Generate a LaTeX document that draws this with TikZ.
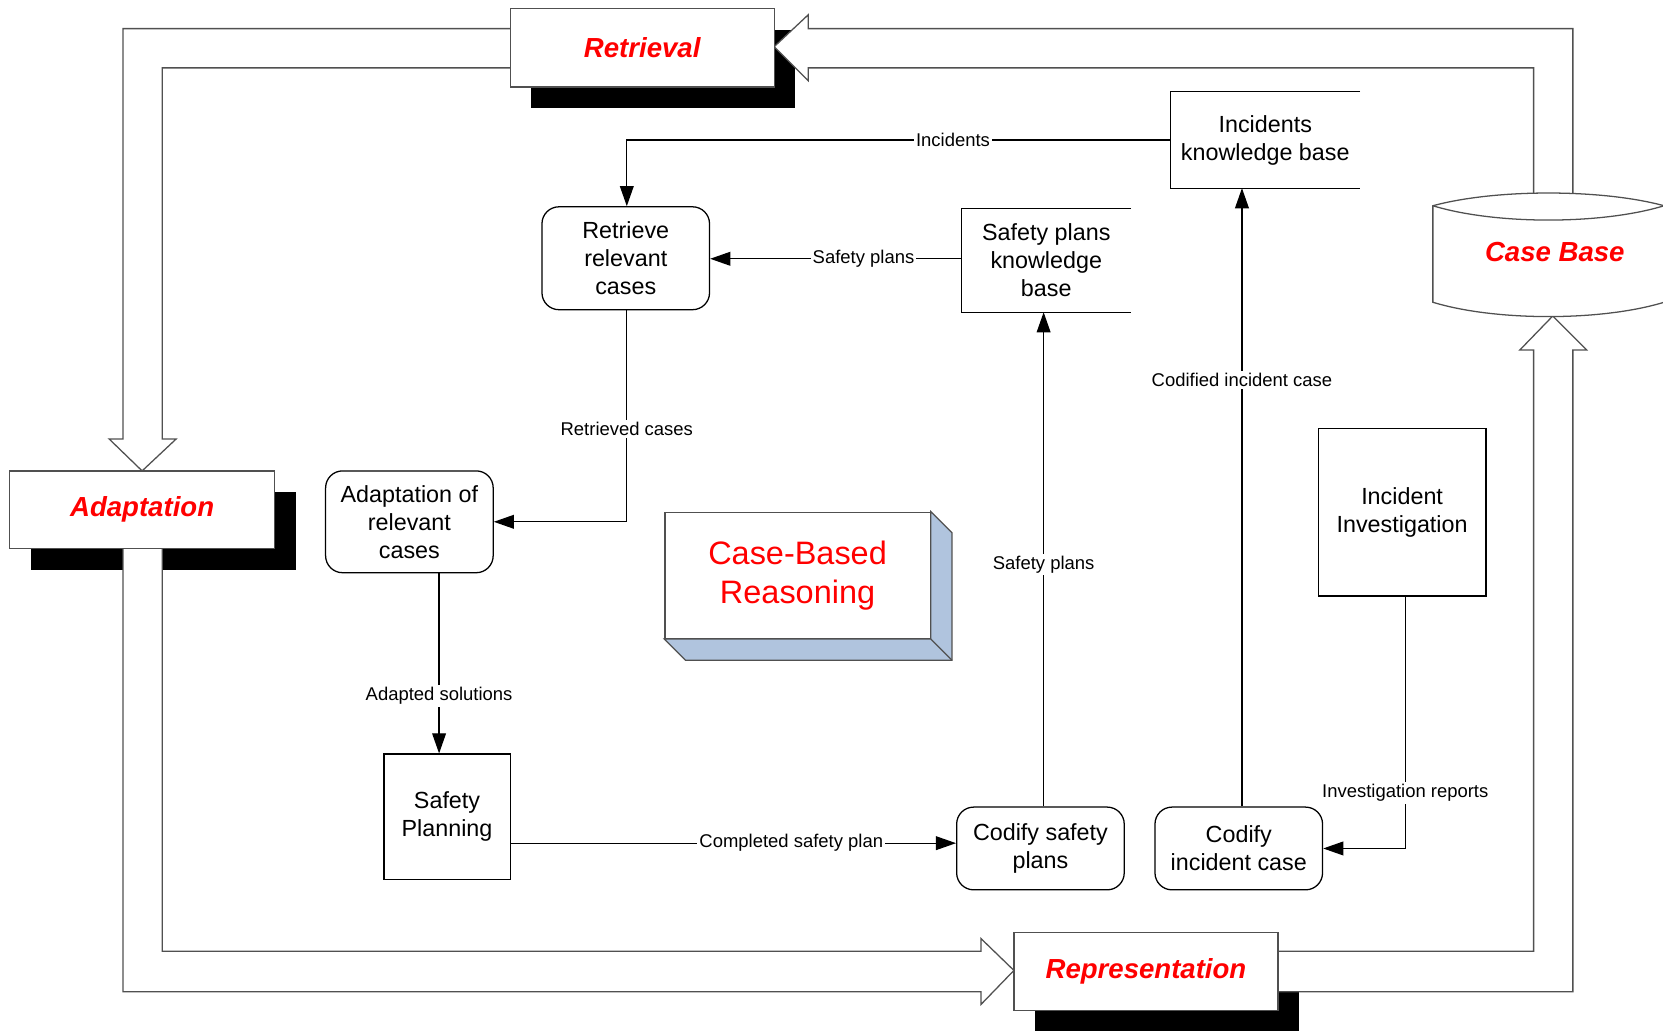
\documentclass[tikz,border=0pt]{standalone}
\usepackage{fontspec}
\setmainfont{Liberation Sans}
\usetikzlibrary{arrows.meta}
\definecolor{sidefill}{HTML}{B0C4DE}
\definecolor{edge}{HTML}{505050}
\begin{document}
\begin{tikzpicture}[x=0.5pt,y=-0.5pt,
  phase/.style={draw=edge, fill=white, line width=0.6pt, minimum width=124.5pt,
    minimum height=37pt, inner sep=0pt, text=red,
    font=\fontsize{13}{15}\selectfont\bfseries\itshape},
  proc/.style={draw=black, fill=white, line width=0.6pt, align=center, inner sep=0pt,
    minimum width=79pt, font=\fontsize{11}{13.2}\selectfont},
  rproc/.style={proc, rounded corners=8pt},
  store/.style={align=center, inner sep=0pt, minimum width=89pt, minimum height=45pt,
    font=\fontsize{11}{13.2}\selectfont},
  lbl/.style={fill=white, inner sep=1pt, font=\fontsize{8.7}{10}\selectfont},
  conn/.style={line width=0.6pt, -{Triangle[length=9.5pt,width=6.5pt]}},
  blockarrow/.style={draw=edge, fill=white, line width=0.6pt},
  dropshade/.style={fill=black}]

\useasboundingbox (0,0) rectangle (1568,972);

% drop shadows of the four phase boxes
\fill[dropshade] (501,28) rectangle (750,102);
\fill[dropshade] (29,464) rectangle (279,537);
\fill[dropshade] (976,899) rectangle (1225,973);

% the outer cycle of hollow block arrows
\filldraw[blockarrow] (490,64) -- (153,64) -- (153,414) -- (166,414) -- (134,444)
  -- (103,414) -- (116,414) -- (116,27) -- (490,27) -- cycle;
\filldraw[blockarrow] (153,510) -- (153,897) -- (925,897) -- (925,885) -- (956,915)
  -- (925,947) -- (925,935) -- (116,935) -- (116,510) -- cycle;
\filldraw[blockarrow] (1195,897) -- (1446,897) -- (1446,330) -- (1433,330) -- (1464,298)
  -- (1496,330) -- (1483,330) -- (1483,935) -- (1195,935) -- cycle;
\filldraw[blockarrow] (1446,195) -- (1446,64) -- (762,64) -- (762,76) -- (730,44)
  -- (762,14) -- (762,27) -- (1483,27) -- (1483,195) -- cycle;

% case base drum
\fill[white] (1351,194) .. controls (1410,178) and (1510,178) .. (1569,194)
  -- (1569,285) .. controls (1510,303) and (1410,303) .. (1351,285) -- cycle;
\draw[edge, line width=0.6pt] (1569,194) .. controls (1510,178) and (1410,178) .. (1351,194)
  -- (1351,285) .. controls (1410,303) and (1510,303) .. (1569,285);
\draw[edge, line width=0.6pt] (1351,194) .. controls (1410,212) and (1510,212) .. (1569,194);
\node[text=red, font=\fontsize{13}{15}\selectfont\bfseries\itshape] (casebase) at (1466,238) {Case Base};

% phase boxes
\node[phase] (retrieval) at (605.5,45) {Retrieval};
\node[phase, minimum width=125pt, minimum height=36.5pt] (adaptation) at (134,480.5) {Adaptation};
\node[phase] (representation) at (1080.5,916) {Representation};

% knowledge bases (open-ended stores)
\node[store] (ikb) at (1193,132) {Incidents\\knowledge base};
\draw[line width=0.6pt] (ikb.north east) -- (ikb.north west) -- (ikb.south west) -- (ikb.south east);
\node[store, minimum width=79.5pt, minimum height=48.5pt] (spkb) at (986.5,245.5) {Safety plans\\knowledge\\base};
\draw[line width=0.6pt] (spkb.north east) -- (spkb.north west) -- (spkb.south west) -- (spkb.south east);

% process steps
\node[rproc, minimum height=48.5pt] (retrieve) at (590,243.5) {Retrieve\\relevant\\cases};
\node[rproc, minimum height=48pt] (adapt) at (386,492) {Adaptation of\\relevant\\cases};
\node[proc, minimum width=59.5pt, minimum height=59pt] (plan) at (421.5,770) {Safety\\Planning};
\node[rproc, minimum height=39pt] (csp) at (981,800) {Codify safety\\plans};
\node[rproc, minimum height=39pt] (cic) at (1168,800) {Codify\\incident case};
\node[proc, minimum height=79pt] (inv) at (1322,483) {Incident\\Investigation};

% central 3-D block
\node[draw=edge, fill=white, line width=0.6pt, minimum width=125pt, minimum height=59.5pt,
  inner sep=0pt, align=center, text=red, font=\fontsize{15.3}{18.5}\selectfont]
  (cbr) at (752,542.5) {Case-Based\\Reasoning};
\filldraw[fill=sidefill, draw=edge, line width=0.6pt] (cbr.north east)
  -- ([shift={(20,20)}]cbr.north east) -- ([shift={(20,20)}]cbr.south east)
  -- ([shift={(20,20)}]cbr.south west) -- (cbr.south west) -- (cbr.south east) -- cycle;
\draw[edge, line width=0.6pt] (cbr.south east) -- ([shift={(20,20)}]cbr.south east);

% guide positions for straight connectors
\coordinate (xa) at (414,0);
\coordinate (xb) at (984,0);
\coordinate (xc) at (1171,0);
\coordinate (xd) at (1325,0);
\coordinate (xr) at (591,0);
\coordinate (ya) at (0,795);
\coordinate (yb) at (0,244);

% information flows
\draw[conn] (ikb.west) -| (retrieve.north -| xr) node[lbl, pos=0.2] {Incidents};
\draw[conn] (spkb.west |- yb) -- (retrieve.east |- yb) node[lbl, pos=0.39] {Safety plans};
\draw[conn] (retrieve.south -| xr) |- (adapt.east) node[lbl, pos=0.28] {Retrieved cases};
\draw[conn] (adapt.south -| xa) -- (plan.north -| xa) node[lbl, pos=0.68] {Adapted solutions};
\draw[conn] (plan.east |- ya) -- (csp.west |- ya) node[lbl, pos=0.63] {Completed safety plan};
\draw[conn] (csp.north -| xb) -- (spkb.south -| xb) node[lbl, pos=0.49] {Safety plans};
\draw[conn] (cic.north -| xc) -- (ikb.south -| xc) node[lbl, pos=0.69] {Codified incident case};
\draw[conn] (inv.south -| xd) |- (cic.east) node[lbl, pos=0.39] {Investigation reports};

\end{tikzpicture}
\end{document}
